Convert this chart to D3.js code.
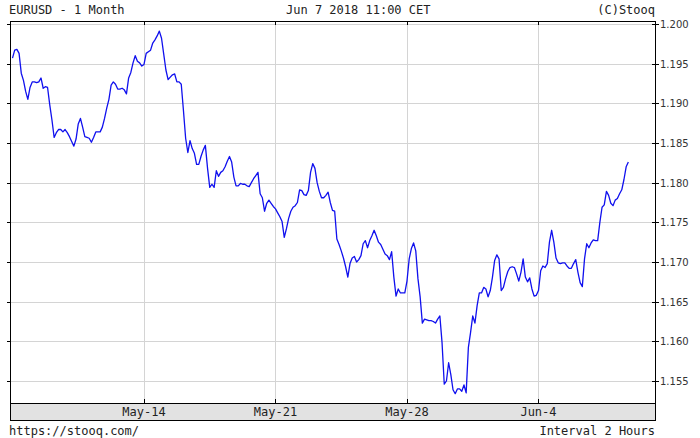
<!DOCTYPE html>
<html>
<head>
<meta charset="utf-8">
<script src="https://cdn.jsdelivr.net/npm/d3@7"></script>
<style>
  html, body { margin: 0; padding: 0; background: #ffffff; }
  svg { display: block; }
</style>
</head>
<body>
<svg id="chart" width="700" height="438"></svg>
<script>
// ---- DATA (EURUSD, 2-hour closes, trading days only) ----
const weekMay7 = [
  1.1957, 1.1967, 1.1968, 1.1963, 1.1938, 1.1929, 1.1915, 1.1905, 1.1920, 1.1927,
  1.1927, 1.1926, 1.1927, 1.1932, 1.1919, 1.1921, 1.1920, 1.1898, 1.1879, 1.1857,
  1.1863, 1.1867, 1.1867, 1.1864, 1.1867, 1.1863, 1.1858, 1.1852, 1.1846, 1.1855,
  1.1874, 1.1881, 1.1870, 1.1858, 1.1857, 1.1856, 1.1851, 1.1857, 1.1864, 1.1864,
  1.1864, 1.1870, 1.1881, 1.1894, 1.1905, 1.1923, 1.1927, 1.1924, 1.1918, 1.1918,
  1.1919, 1.1917, 1.1912, 1.1932, 1.1939, 1.1951, 1.1960, 1.1953, 1.1951, 1.1947
];
const weekMay14 = [
  1.1949, 1.1963, 1.1965, 1.1967, 1.1976, 1.1980, 1.1985, 1.1991, 1.1982, 1.1962,
  1.1942, 1.1930, 1.1933, 1.1936, 1.1937, 1.1927, 1.1927, 1.1924, 1.1891, 1.1856,
  1.1838, 1.1853, 1.1843, 1.1837, 1.1823, 1.1823, 1.1833, 1.1841, 1.1847, 1.1818,
  1.1794, 1.1798, 1.1794, 1.1815, 1.1808, 1.1813, 1.1815, 1.1820, 1.1827, 1.1833,
  1.1826, 1.1807, 1.1796, 1.1796, 1.1799, 1.1798, 1.1798, 1.1796, 1.1795, 1.1800,
  1.1805, 1.1809, 1.1813, 1.1786, 1.1781, 1.1764, 1.1774, 1.1778, 1.1774, 1.1770
];
const weekMay21 = [
  1.1767, 1.1762, 1.1757, 1.1751, 1.1731, 1.1742, 1.1755, 1.1764, 1.1769, 1.1771,
  1.1775, 1.1791, 1.1790, 1.1785, 1.1784, 1.1790, 1.1813, 1.1824, 1.1818, 1.1800,
  1.1789, 1.1781, 1.1781, 1.1784, 1.1788, 1.1775, 1.1765, 1.1764, 1.1729, 1.1722,
  1.1714, 1.1705, 1.1694, 1.1681, 1.1698, 1.1705, 1.1707, 1.1700, 1.1703, 1.1708,
  1.1723, 1.1727, 1.1718, 1.1727, 1.1733, 1.1740, 1.1733, 1.1725, 1.1722, 1.1716,
  1.1710, 1.1708, 1.1703, 1.1713, 1.1681, 1.1657, 1.1666, 1.1661, 1.1661, 1.1661
];
const weekMay28 = [
  1.1676, 1.1704, 1.1717, 1.1724, 1.1714, 1.1679, 1.1656, 1.1623, 1.1628, 1.1627,
  1.1626, 1.1626, 1.1625, 1.1623, 1.1628, 1.1632, 1.1598, 1.1546, 1.1550, 1.1573,
  1.1558, 1.1539, 1.1534, 1.1540, 1.1540, 1.1537, 1.1545, 1.1535, 1.1592, 1.1611,
  1.1632, 1.1623, 1.1645, 1.1661, 1.1661, 1.1668, 1.1666, 1.1656, 1.1664, 1.1681,
  1.1702, 1.1709, 1.1704, 1.1664, 1.1668, 1.1679, 1.1688, 1.1693, 1.1694, 1.1693,
  1.1685, 1.1676, 1.1687, 1.1704, 1.1681, 1.1675, 1.1680, 1.1666, 1.1657, 1.1658
];
const weekJun4 = [
  1.1664, 1.1689, 1.1695, 1.1693, 1.1698, 1.1725, 1.1740, 1.1725, 1.1705, 1.1699,
  1.1698, 1.1699, 1.1699, 1.1695, 1.1692, 1.1692, 1.1698, 1.1703, 1.1687, 1.1674,
  1.1669, 1.1704, 1.1723, 1.1718, 1.1724, 1.1728, 1.1727, 1.1727, 1.1750, 1.1769,
  1.1772, 1.1789, 1.1784, 1.1774, 1.1771, 1.1778, 1.1780, 1.1786, 1.1791, 1.1804,
  1.1820, 1.1826
];
const yTickValues = [1.155, 1.160, 1.165, 1.170, 1.175, 1.180, 1.185, 1.190, 1.195, 1.200];
const xTickLabels = ["May-14", "May-21", "May-28", "Jun-4"];
const xTickDays = [5, 10, 15, 20];          // trading days since May 7
const pointsPerDay = 12;                    // 2-hour interval
const titleLeft = "EURUSD - 1 Month";
const titleCenter = "Jun 7 2018 11:00 CET";
const titleRight = "(C)Stooq";
const footLeft = "https://stooq.com/";
const footRight = "Interval 2 Hours";

// ---- LAYOUT ----
const L = 10, R = 655, T = 21, B = 403, BAND = 420;
const series = [].concat(weekMay7, weekMay14, weekMay21, weekMay28, weekJun4);
const data = series.map((v, i) => ({ day: i / pointsPerDay, v }));

const x = d3.scaleLinear().domain([-0.095, 24.43]).range([L, R]);
const y = d3.scaleLinear().domain([1.155, 1.200]).range([381, 24]);

const svg = d3.select("#chart");
const mono = "'DejaVu Sans Mono', 'Liberation Mono', monospace";
const sans = "'DejaVu Sans', Verdana, sans-serif";

// gridlines
const grid = svg.append("g").attr("stroke", "#d4d4d4").attr("stroke-width", 1);
grid.selectAll("line.h").data(yTickValues).join("line")
  .attr("x1", L).attr("x2", R)
  .attr("y1", d => Math.round(y(d)) + 0.5).attr("y2", d => Math.round(y(d)) + 0.5);
grid.selectAll("line.v").data(xTickDays).join("line")
  .attr("y1", T).attr("y2", B)
  .attr("x1", d => Math.round(x(d)) + 0.5).attr("x2", d => Math.round(x(d)) + 0.5);

// price line
const line = d3.line().x(d => x(d.day)).y(d => y(d.v));
svg.append("path").datum(data)
  .attr("fill", "none").attr("stroke", "#1010ee").attr("stroke-width", 1.3)
  .attr("stroke-linejoin", "round")
  .attr("d", line);

// bottom band
svg.append("rect").attr("x", L + 0.5).attr("y", B + 0.5)
  .attr("width", R - L).attr("height", BAND - B)
  .attr("fill", "#e2e2e2").attr("stroke", "#000").attr("stroke-width", 1);

// frame
svg.append("rect").attr("x", L + 0.5).attr("y", T + 0.5)
  .attr("width", R - L).attr("height", B - T)
  .attr("fill", "none").attr("stroke", "#000").attr("stroke-width", 1);

// ticks
const ticks = svg.append("g").attr("stroke", "#000").attr("stroke-width", 1);
ticks.selectAll("line.r").data(yTickValues).join("line")
  .attr("x1", R - 3).attr("x2", R + 4)
  .attr("y1", d => Math.round(y(d)) + 0.5).attr("y2", d => Math.round(y(d)) + 0.5);
ticks.selectAll("line.l").data(yTickValues).join("line")
  .attr("x1", L - 3).attr("x2", L + 1)
  .attr("y1", d => Math.round(y(d)) + 0.5).attr("y2", d => Math.round(y(d)) + 0.5);
ticks.selectAll("line.t").data(xTickDays).join("line")
  .attr("y1", T).attr("y2", T + 4)
  .attr("x1", d => Math.round(x(d)) + 0.5).attr("x2", d => Math.round(x(d)) + 0.5);
ticks.selectAll("line.b").data(xTickDays).join("line")
  .attr("y1", B - 4).attr("y2", B)
  .attr("x1", d => Math.round(x(d)) + 0.5).attr("x2", d => Math.round(x(d)) + 0.5);

// y labels
svg.append("g").selectAll("text").data(yTickValues).join("text")
  .attr("x", R + 5).attr("y", d => y(d) + 4)
  .attr("font-family", sans).attr("font-size", 10).attr("fill", "#333")
  .text(d => d3.format(".3f")(d));

// x labels
svg.append("g").selectAll("text").data(xTickDays).join("text")
  .attr("x", d => x(d)).attr("y", 416)
  .attr("text-anchor", "middle")
  .attr("font-family", mono).attr("font-size", 12).attr("fill", "#222")
  .text((d, i) => xTickLabels[i]);

// header & footer
const txt = (s, xx, yy, anchor) => svg.append("text")
  .attr("x", xx).attr("y", yy).attr("text-anchor", anchor)
  .attr("font-family", mono).attr("font-size", 12).attr("fill", "#222").text(s);
txt(titleLeft, 9, 14, "start");
txt(titleCenter, 286, 14, "start");
txt(titleRight, 655, 14, "end");
txt(footLeft, 9, 435, "start");
txt(footRight, 655, 435, "end");
</script>
</body>
</html>
